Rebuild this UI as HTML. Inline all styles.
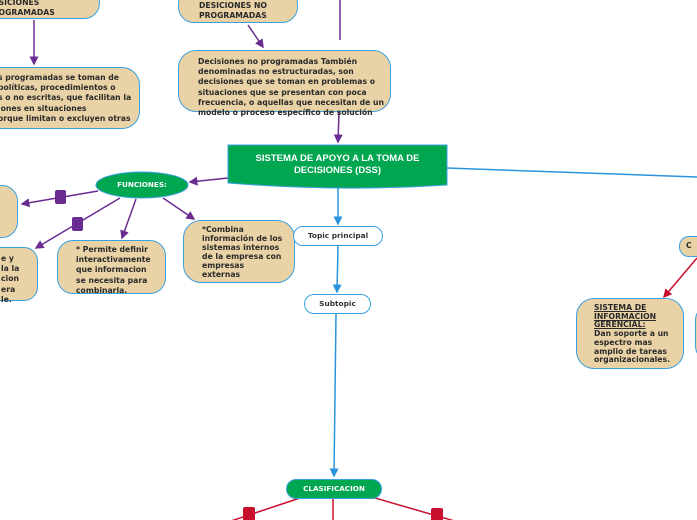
<!DOCTYPE html>
<html><head><meta charset="utf-8"><style>
html,body{margin:0;padding:0;width:697px;height:520px;overflow:hidden;background:#fff;position:relative;font-family:"DejaVu Sans","Liberation Sans",sans-serif;}
.b{position:absolute;background:#e9d3a6;border:1.5px solid #3ba0e0;border-radius:16px;box-sizing:border-box;font-weight:bold;font-size:7.7px;line-height:10.2px;color:#2a2a2a;white-space:nowrap;}
.w{position:absolute;background:#fff;border:1.5px solid #3ba0e0;border-radius:10px;box-sizing:border-box;font-weight:bold;font-size:7.4px;color:#333;text-align:center;}
svg{position:absolute;left:0;top:0;}
</style></head><body>
<svg width="697" height="520">
<defs>
<marker id="ap" markerWidth="6" markerHeight="6" refX="5" refY="3" orient="auto"><path d="M0,0L6,3L0,6z" fill="#6a2c91"/></marker>
<marker id="ab" markerWidth="6" markerHeight="6" refX="5" refY="3" orient="auto"><path d="M0,0L6,3L0,6z" fill="#2b93dc"/></marker>
<marker id="ar" markerWidth="6" markerHeight="6" refX="5" refY="3" orient="auto"><path d="M0,0L6,3L0,6z" fill="#c8102e"/></marker>
</defs>
<g stroke="#6a2c91" stroke-width="1.5" fill="none">
<line x1="34" y1="20" x2="34" y2="64" marker-end="url(#ap)"/>
<line x1="248" y1="25" x2="263" y2="47" marker-end="url(#ap)"/>
<line x1="340" y1="0" x2="340" y2="40"/>
<line x1="339" y1="112" x2="338" y2="142" marker-end="url(#ap)"/>
<line x1="228" y1="178" x2="190" y2="182" marker-end="url(#ap)"/>
<line x1="98" y1="191" x2="22" y2="204" marker-end="url(#ap)"/>
<line x1="120" y1="198" x2="36" y2="248" marker-end="url(#ap)"/>
<line x1="136" y1="199" x2="122" y2="238" marker-end="url(#ap)"/>
<line x1="163" y1="198" x2="194" y2="219" marker-end="url(#ap)"/>
</g>
<rect x="55" y="190" width="11" height="14" rx="2" fill="#6a2c91"/>
<rect x="72" y="217" width="11" height="14" rx="2" fill="#6a2c91"/>
<g stroke="#2b93dc" stroke-width="1.5" fill="none">
<line x1="447" y1="168" x2="697" y2="177"/>
<line x1="338" y1="188" x2="338" y2="224" marker-end="url(#ab)"/>
<line x1="338" y1="246" x2="337" y2="292" marker-end="url(#ab)"/>
<line x1="336" y1="314" x2="334" y2="476" marker-end="url(#ab)"/>
</g>
<g stroke="#c8102e" stroke-width="1.5" fill="none">
<line x1="300" y1="498" x2="228" y2="522"/>
<line x1="333" y1="498" x2="333" y2="522"/>
<line x1="375" y1="498" x2="458" y2="522"/>
<line x1="697" y1="258" x2="664" y2="297" marker-end="url(#ar)"/>
</g>
<rect x="243" y="507" width="12" height="14" rx="2" fill="#c8102e"/>
<rect x="431" y="508" width="12" height="14" rx="2" fill="#c8102e"/>
<path d="M228,145 L447,145 L447,185 Q340,192 228,183 Z" fill="#00a650" stroke="#3ba0e0" stroke-width="1"/>
<ellipse cx="142" cy="185" rx="46" ry="13" fill="#00a650" stroke="#3ba0e0" stroke-width="1"/>
</svg>

<div class="b" style="left:-30px;top:-15px;width:130px;height:34px;padding:12px 0 0 16px;">DESICIONES<br>PROGRAMADAS</div>
<div class="b" style="left:-25px;top:67px;width:165px;height:62px;padding:5px 0 0 22px;border-radius:18px;">s programadas se toman de<br>políticas, procedimientos o<br>s o no escritas, que facilitan la<br>iones en situaciones<br>orque limitan o excluyen otras</div>
<div class="b" style="left:178px;top:-12px;width:120px;height:35px;padding:12px 0 0 20px;">DESICIONES NO<br>PROGRAMADAS</div>
<div class="b" style="left:178px;top:50px;width:213px;height:62px;padding:6px 0 0 19px;border-radius:18px;">Decisiones no programadas También<br>denominadas no estructuradas, son<br>decisiones que se toman en problemas o<br>situaciones que se presentan con poca<br>frecuencia, o aquellas que necesitan de un<br>modelo o proceso específico de solución</div>
<div style="position:absolute;left:228px;top:153px;width:219px;text-align:center;color:#fff;font-family:'Liberation Sans',sans-serif;font-weight:bold;font-size:9.5px;line-height:11.5px;">SISTEMA DE APOYO A LA TOMA DE<br>DECISIONES (DSS)</div>
<div style="position:absolute;left:96px;top:180px;width:92px;text-align:center;color:#fff;font-weight:bold;font-size:7.2px;">FUNCIONES:</div>
<div class="b" style="left:-20px;top:185px;width:38px;height:53px;"></div>
<div class="b" style="left:-20px;top:247px;width:58px;height:54px;padding:6px 0 0 20px;border-radius:14px;">e y<br>la la<br>cion<br>era<br>le.</div>
<div class="b" style="left:57px;top:240px;width:109px;height:54px;padding:4px 0 0 18px;">* Permite definir<br>interactivamente<br>que informacion<br>se necesita para<br>combinarla.</div>
<div class="b" style="left:183px;top:220px;width:112px;height:63px;padding:4px 0 0 18px;line-height:9px;border-radius:18px;">*Combina<br>información de los<br>sistemas internos<br>de la empresa con<br>empresas<br>externas</div>
<div class="w" style="left:293px;top:226px;width:90px;height:20px;line-height:17px;">Topic principal</div>
<div class="w" style="left:304px;top:294px;width:67px;height:20px;line-height:17px;">Subtopic</div>
<div class="w" style="left:286px;top:479px;width:96px;height:20px;line-height:17px;background:#00a650;color:#fff;font-size:7.2px;">CLASIFICACION</div>
<div class="b" style="left:679px;top:236px;width:40px;height:21px;border-radius:10px;padding:4px 0 0 6px;">C</div>
<div class="b" style="left:576px;top:298px;width:108px;height:71px;padding:5px 0 0 17px;line-height:8.7px;border-radius:18px;"><u>SISTEMA DE </u><br><u>INFORMACION </u><br><u>GERENCIAL:</u><br>Dan soporte a un<br>espectro mas<br>amplio de tareas<br>organizacionales.</div>
<div class="b" style="left:695px;top:305px;width:30px;height:56px;"></div>
</body></html>
